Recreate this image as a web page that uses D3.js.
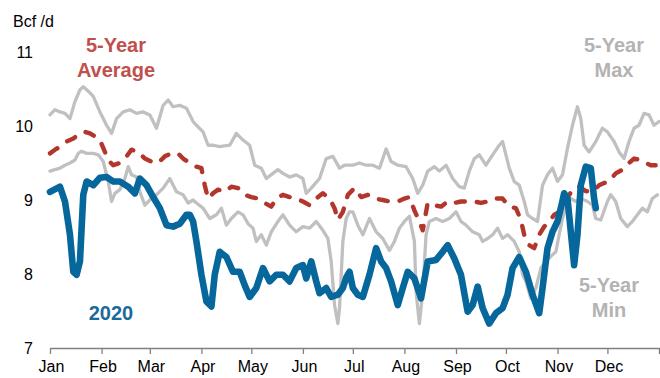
<!DOCTYPE html>
<html>
<head>
<meta charset="utf-8">
<script src="https://cdn.jsdelivr.net/npm/d3@7"></script>
<style>
  html, body { margin: 0; padding: 0; background: #fff; }
  svg { display: block; font-family: "Liberation Sans", Arial, sans-serif; }
</style>
</head>
<body>
<svg id="chart" width="660" height="378"></svg>
<script>
// Daily dry gas production, Bcf/d, by day of year (0 = Jan 1)
const maxDays = [0,3,6,9,12,15,18,20,23,26,30,34,37,40,44,48,52,56,60,64,68,71,74,78,82,86,88,92,95,98,102,108,112,116,120,123,127,130,134,137,140,144,148,152,154,157,162,166,170,174,177,182,186,190,194,198,202,205,209,214,218,221,224,227,231,234,238,242,246,249,252,255,258,262,266,270,272,274,276,279,282,285,287,290,293,296,299,302,305,308,311,314,317,319,321,324,328,332,335,339,342,345,348,351,354,357,360,363,366];
const maxVals = [10.15,10.22,10.19,10.17,10.10,10.33,10.49,10.53,10.47,10.40,10.19,10.01,9.90,10.10,10.19,10.22,10.17,10.19,10.15,9.97,10.28,10.35,10.26,10.28,10.24,10.06,10.01,9.92,9.74,9.74,9.72,9.74,9.90,9.81,9.74,9.47,9.43,9.29,9.36,9.41,9.36,9.31,9.34,9.29,9.09,9.16,9.29,9.56,9.59,9.43,9.47,9.47,9.50,9.47,9.47,9.43,9.69,9.52,9.47,9.45,9.29,9.09,9.20,9.39,9.45,9.39,9.47,9.29,9.18,9.16,9.39,9.56,9.61,9.47,9.61,9.74,9.79,9.61,9.43,9.25,9.20,8.98,8.80,8.75,8.71,9.20,9.34,9.43,9.25,9.34,9.70,10.01,10.26,10.10,9.74,9.65,9.79,9.97,9.92,9.79,9.65,9.56,9.79,9.97,10.01,10.17,10.15,10.01,10.06];

const minDays = [0,3,6,9,12,15,17,19,22,26,29,32,35,37,39,42,45,47,49,52,54,57,60,64,68,72,76,80,83,86,88,92,96,100,103,106,109,113,116,119,122,124,127,130,133,137,140,144,148,152,156,160,164,167,169,171,173,174,176,178,180,182,185,188,192,196,200,204,207,210,213,216,219,220,222,224,226,228,232,236,240,244,247,250,254,258,260,263,266,269,272,275,279,282,284,286,289,292,295,298,301,304,306,308,311,313,316,319,323,326,328,331,335,337,340,343,347,350,353,356,359,362,365];
const minVals = [9.39,9.41,9.43,9.47,9.50,9.54,9.63,9.66,9.63,9.63,9.61,9.52,9.25,8.98,9.09,9.14,9.29,9.45,9.34,9.31,9.11,8.93,9.00,9.07,9.16,9.29,9.11,9.07,8.96,9.00,8.96,8.89,8.75,8.80,8.89,8.66,8.75,8.84,8.80,8.68,8.62,8.44,8.53,8.39,8.57,8.71,8.80,8.66,8.57,8.64,8.62,8.71,8.59,8.48,8.17,7.58,7.33,7.54,8.44,8.75,8.84,8.84,8.66,8.53,8.75,8.57,8.48,8.32,8.44,8.62,8.71,8.78,8.44,7.76,7.33,7.76,8.53,8.71,8.75,8.71,8.75,8.84,8.71,8.66,8.57,8.53,8.44,8.48,8.53,8.62,8.48,8.53,8.44,8.30,7.99,7.90,7.67,7.81,8.08,8.17,8.24,8.30,8.53,8.75,8.98,9.02,8.98,9.02,8.98,8.93,8.75,8.73,8.98,9.07,8.98,8.75,8.64,8.71,8.80,8.89,8.84,9.02,9.07];

const avgDays = [0,3,6,10,14,18,21,24,27,30,33,35,38,42,45,49,53,57,61,65,69,73,77,80,84,88,91,93,95,98,101,105,109,113,117,121,125,129,133,136,140,144,148,152,156,160,164,168,171,173,176,179,183,187,191,195,200,204,209,213,216,219,222,224,227,231,235,239,243,247,251,255,259,263,267,272,276,280,283,285,288,291,294,297,300,303,306,309,312,315,318,322,326,330,333,336,340,344,348,351,355,358,361,364];
const avgVals = [9.63,9.68,9.72,9.79,9.83,9.90,9.92,9.90,9.86,9.81,9.65,9.54,9.47,9.50,9.56,9.68,9.65,9.56,9.52,9.50,9.59,9.63,9.63,9.56,9.50,9.45,9.43,9.20,9.02,9.09,9.14,9.11,9.18,9.16,9.07,9.04,9.02,8.96,8.91,9.02,9.07,9.04,9.02,8.98,8.93,9.02,9.09,9.02,8.89,8.73,8.84,9.07,9.16,9.04,9.07,9.02,9.00,8.98,8.98,9.02,9.04,8.86,8.71,8.59,8.96,8.93,8.91,8.98,8.96,8.98,8.98,8.98,8.96,8.98,9.02,9.02,8.91,8.89,8.73,8.53,8.39,8.35,8.53,8.64,8.71,8.80,8.84,8.96,9.07,9.16,9.18,9.12,9.11,9.20,9.23,9.25,9.36,9.41,9.50,9.56,9.54,9.50,9.47,9.47];

const days2020 = [0,6,9,12,14,16,18,20,22,26,30,34,38,42,47,51,54,58,62,66,70,74,78,82,84,86,88,91,94,97,99,102,106,110,114,117,120,124,128,132,136,140,144,148,152,154,157,160,162,166,169,173,176,178,180,182,185,188,192,196,199,202,205,209,212,215,219,223,227,232,236,239,243,247,251,254,257,260,264,268,272,275,278,282,286,290,294,296,299,302,305,307,309,311,313,315,317,319,322,325,327,328];
const vals2020 = [9.11,9.18,8.98,8.53,8.03,7.99,8.17,9.07,9.25,9.20,9.30,9.31,9.25,9.25,9.18,9.09,9.29,9.20,9.04,8.89,8.66,8.64,8.68,8.80,8.80,8.71,8.44,7.99,7.63,7.56,7.99,8.30,8.23,8.03,8.03,7.85,7.69,7.81,8.08,7.90,7.99,7.99,7.90,8.08,8.12,7.94,8.17,7.90,7.74,7.81,7.69,7.72,7.81,7.95,8.03,7.81,7.72,7.69,7.99,8.35,8.17,8.08,7.90,7.58,7.81,8.03,7.94,7.67,8.17,8.19,8.30,8.39,8.21,7.99,7.49,7.58,7.83,7.54,7.33,7.47,7.54,7.72,8.08,8.23,8.03,7.72,7.47,7.81,8.35,8.57,8.71,8.89,9.09,9.02,8.57,8.12,8.53,9.20,9.45,9.43,9.02,8.89];

const monthLabels = ["Jan","Feb","Mar","Apr","May","Jun","Jul","Aug","Sep","Oct","Nov","Dec"];
const yTicks = [7, 8, 9, 10, 11];

const svg = d3.select("#chart");
const start = new Date(2020, 0, 1);
const end = new Date(2021, 0, 1);
const dayToDate = d => d3.timeDay.offset(start, d);

const x = d3.scaleTime().domain([start, end]).range([50, 659]);
const y = d3.scaleLinear().domain([7, 11]).range([348, 52]);

// Y tick labels (no axis line)
svg.append("g").selectAll("text").data(yTicks).join("text")
  .attr("x", 33).attr("y", d => y(d)).attr("dy", "0.36em")
  .attr("text-anchor", "end").attr("font-size", 16).attr("fill", "#000")
  .text(d => d);

svg.append("text").attr("x", 13).attr("y", 27)
  .attr("font-size", 16).attr("fill", "#000").text("Bcf /d");

// X axis along the 7 Bcf/d baseline
const months = d3.timeMonth.range(start, end);
const xAxis = d3.axisBottom(x).tickValues(months.concat([end]))
  .tickSize(6).tickSizeOuter(0)
  .tickFormat((d, i) => i < 12 ? monthLabels[d.getMonth()] : "");
const gx = svg.append("g").attr("transform", `translate(0,${y(7)})`).call(xAxis);
gx.select(".domain").attr("stroke", "#808080").attr("stroke-width", 1.3);
gx.selectAll(".tick line").attr("stroke", "#808080").attr("stroke-width", 1.3);
gx.selectAll(".tick text").attr("font-size", 16).attr("fill", "#000")
  .attr("font-family", "Liberation Sans, Arial, sans-serif").attr("y", 13).attr("dx", 1);

const line = d3.line().x(d => x(dayToDate(d[0]))).y(d => y(d[1]));
const zipS = (a, b) => a.map((d, i) => [d, b[i]]);

const g = svg.append("g").attr("fill", "none")
  .attr("stroke-linejoin", "round").attr("stroke-linecap", "round");

g.append("path").datum(zipS(maxDays, maxVals)).attr("d", line)
  .attr("stroke", "#c0c0c0").attr("stroke-width", 3.3);
g.append("path").datum(zipS(minDays, minVals)).attr("d", line)
  .attr("stroke", "#c0c0c0").attr("stroke-width", 3.3);
g.append("path").datum(zipS(avgDays, avgVals)).attr("d", line)
  .attr("stroke", "#b2362b").attr("stroke-width", 4.4)
  .attr("stroke-dasharray", "9,12");
g.append("path").datum(zipS(days2020, vals2020)).attr("d", line)
  .attr("stroke", "#05679b").attr("stroke-width", 6.6);

// Series labels
function label(lines, cx, y0, color) {
  const t = svg.append("text").attr("text-anchor", "middle")
    .attr("font-size", 20).attr("font-weight", "bold").attr("fill", color);
  lines.forEach((s, i) => t.append("tspan").attr("x", cx).attr("y", y0 + i * 25).text(s));
}
label(["5-Year", "Average"], 116, 52, "#c0504d");
label(["5-Year", "Max"], 614, 52, "#b3b3b3");
label(["5-Year", "Min"], 609, 292, "#b3b3b3");
label(["2020"], 111, 320, "#1a6a9c");
</script>
</body>
</html>
